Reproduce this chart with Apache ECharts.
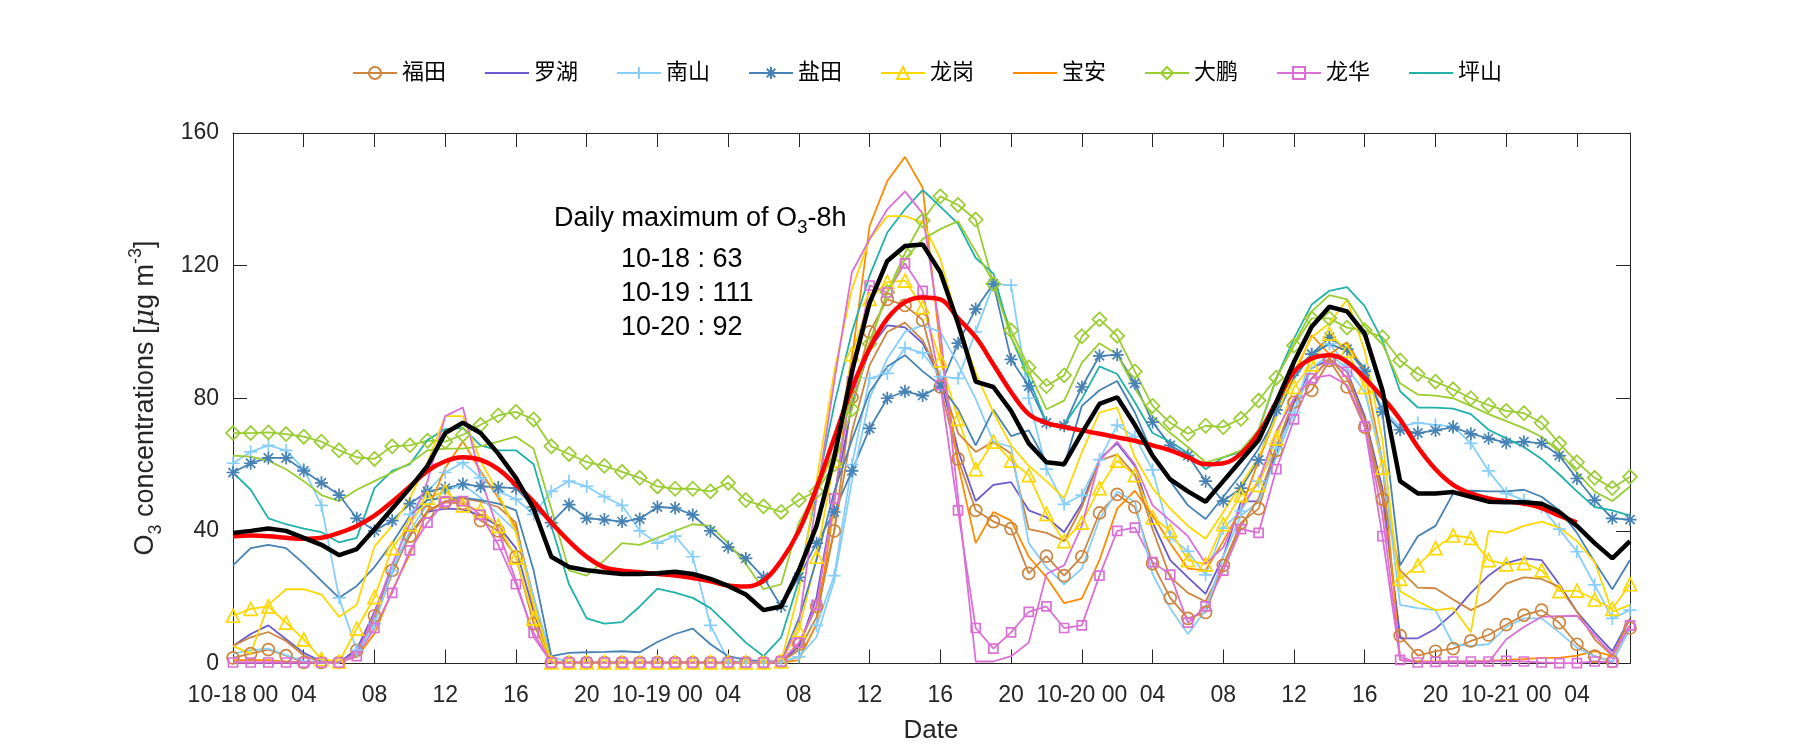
<!DOCTYPE html>
<html><head><meta charset="utf-8">
<script src="https://cdn.jsdelivr.net/npm/echarts@6/dist/echarts.min.js"></script>
<style>html,body{margin:0;padding:0;background:#fff}#c{width:1800px;height:750px}</style>
</head><body><div id="c"></div>
<script>
// ---- data (hourly, index 0 = 10-18 00:00) ----
const districts = ['福田','罗湖','南山','盐田','龙岗','宝安','大鹏','龙华','坪山'];
const xTickLabels = ['10-18 00','04','08','12','16','20','10-19 00','04','08','12','16','20','10-20 00','04','08','12','16','20','10-21 00','04'];

const futian_obs = [1.7,3,4.2,2.4,0.3,0.3,0.3,4,14.4,28.1,38.4,45.7,48.6,48.2,43.1,40,32.2,12,0.3,0.3,0.3,
 0.3,0.3,0.3,0.3,0.3,0.3,0.3,0.3,0.3,0.3,0.6,5.8,17.2,40,80.3,100,109.8,108,103.6,83.4,
 61.7,46.2,42.8,40.7,27.2,32.4,26.5,32.2,45.4,51,47.2,30.1,19.8,13.6,15.4,29.6,42.5,46.7,64.3,78.8,
 82.4,91.4,83.4,71.3,49.6,8.4,2.4,3.7,4.5,6.8,8.6,11.7,14.6,16.1,12.3,5.8,2.2,0.6,10.7];
const futian_sim = [5.3,7.9,9.5,6.8,2.4,0.3,0.3,3,13,27,39,46,49,49.8,48.8,47.2,42.5,16.7,0.3,0.3,0.3,
 0.3,0.3,0.3,0.3,0.3,0.3,0.3,0.3,0.3,0.3,0.5,4,14,40,70,90,100,102.8,97.5,86.5,
 69.5,63.8,66.9,63.3,40.5,39.4,36.9,47.2,61.2,63.1,57,40.5,26,21.3,18.7,29.6,41.5,49.8,65.3,79.8,
 86,92.2,86,73.6,50.8,28.1,22.9,22.7,19.3,16.1,18.7,24.1,26,25.5,23.1,15.6,7.3,2.4,13.6];
const luohu = [5.3,8.9,11.5,7.3,3.2,0.6,0.3,4.3,15.6,29.1,38.9,45.7,46.7,46.5,44.6,41.5,34.8,15.6,0.3,0.3,0.3,
 0.3,0.3,0.3,0.3,0.3,0.3,0.3,0.3,0.3,0.3,0.5,5,20,50,78,95,102,101.4,96.6,86,
 64.3,49,53.9,54.7,46.2,44.1,39.6,48.2,61.7,66.4,59.6,42.6,31.2,26,21,32.2,48.8,49,63.3,78.8,
 89.1,91.7,88.1,74.6,52.9,7.6,7.6,10.5,15.1,21.3,26.5,30.3,31.7,31.2,23.9,15.6,9.4,3.7,13.6];
const nanshan_obs = [60.4,63.8,65.8,64.3,58.6,47.7,19.8,4,12,28,45,52,57.6,60.6,56,51.9,49.6,45,51.9,55,53.4,
 50.3,47.7,40,36.3,38.4,32.2,11.5,1,0.3,0.3,0.3,2,11.5,26.5,60,86,87.5,95.2,93.7,86.5,
 86,100,114.4,114.1,80,58.6,48,50.8,61.5,71.9,68.4,58.4,38.2,33.8,26.7,40.8,46,55,65,75.7,
 93.3,96.4,90.2,88.6,76.7,71.5,72.6,72,71.5,66.4,58.1,51.3,49.3,47.2,40.5,33.7,23.7,13.6,16.1];
const nanshan_sim = [3,4,4.5,2.5,0.8,0.3,0.3,3,12,28,40,48,52,54,50,45,40,20,2,0.5,0.5,
 0.5,0.5,0.5,0.5,0.5,0.5,0.5,0.5,0.5,0.5,0.5,2,8,25,55,80,92,100,102,100,
 90.2,79.8,66.9,65.3,36.3,29,23.9,28.6,43.6,51.9,48.8,27,16.6,8.9,16.1,32.2,44.6,48.8,62.2,75.7,
 89.1,93.2,89.1,81.9,61.2,17.7,16.7,16.1,5.8,5.3,5.8,11,13.6,13.6,9.4,4.8,2.2,0.6,10.5];
const yantian_obs = [57.6,60.4,62,62,58.1,54.5,50.8,43.8,40,43.1,48.2,51.9,52.9,54.1,53.4,53.1,52.9,47.2,42.5,47.9,43.8,
 43.4,42.8,43.6,47.2,46.9,44.8,40,35.1,31.7,26,17.2,26,36.3,45.7,58.1,70.9,80,82.1,80.8,83.7,
 96.6,106.9,114.5,91.7,83.7,72.6,71.7,83.4,92.8,93.1,84.5,72.8,65.8,62.7,55,49,52.9,61.4,76.5,88.1,
 93.3,98.4,94.8,88.1,75.9,70.5,69.5,70.3,71.3,69.3,67.9,66.6,66.9,66.4,62.7,55.8,49.3,43.8,43.4];
const yantian_sim = [29.6,34.8,35.8,34.8,30.1,24.9,19.8,23.4,29.1,36.3,44.6,49.3,50,50,49.3,48.2,46.2,28.1,2.2,3.2,3.4,
 3.5,3.7,3.4,6.5,8.9,10.5,5.8,2.2,1.1,0.6,0.6,13.6,31.2,51.9,67.4,81.9,89.6,93,88.1,84,
 76.7,65.8,76.5,68.6,70.3,60.7,59.6,77.7,82.4,85.2,75.7,63.3,55,47.7,43.6,50.3,57,64.8,74.6,86,
 93.3,96.4,94.3,89.2,75.7,29.6,38.4,41.5,51.3,52.1,51.9,51.9,52.4,50.3,46.2,39.4,30.6,22.4,31.2];
const longgang_obs = [14.4,16.5,17.2,12.3,7.3,1.3,0.6,10.5,20,34.8,42,50,51.9,47.7,46.2,41.5,32,13.6,0.3,0.3,0.3,
 0.3,0.3,0.3,0.3,0.3,0.3,0.3,0.3,0.3,0.3,0.6,10,32.2,61.2,93.3,110,115,115.5,107.5,91.4,
 73.8,58.6,66.9,61.2,56.8,45.1,36.9,42.5,52.9,61.2,56.8,44.1,40,31.2,29.9,42,50.8,53.9,67.9,83.4,
 90.2,99.5,94.3,83.4,59.1,25.5,29.6,34.8,38.6,37.9,31.2,29.9,30.3,28.1,21.8,22,19.3,16.5,23.9];
const longgang_sim = [5.3,3,17.7,22.4,22.4,20.8,14.1,17.7,35.3,41.5,49.8,60.7,74.6,74.6,61.2,51.3,39.4,17.7,0.5,0.3,0.3,
 0.3,0.3,0.3,0.3,0.3,0.3,0.3,0.3,0.3,0.3,0.5,22,55,88,113,128,134.9,134.9,133,122,
 102.6,87.6,75.7,65.8,59.6,55,49.8,63.7,75.7,77.2,62.2,52.9,46.7,41.5,37.6,45.7,53.9,62.2,74.6,88.1,
 98.4,102.6,109.8,94.3,67.4,21.8,18.7,16.1,16.7,9.4,40,39.4,41.5,42.8,41,36.9,30.6,15.6,17.7];
const baoan = [1,1,1,0.5,0.5,0.5,0.5,2,9,22,33,46,59,67,58,50,41,20,0.5,0.3,0.3,
 0.3,0.3,0.3,0.3,0.3,0.3,0.3,0.3,0.3,0.3,0.3,1,12,48,92,132,145.5,152.8,143.5,95,
 60,36.3,45.7,43.1,32.2,26,18.2,19.6,31.2,46.7,52.1,44.6,36.3,28.6,28.1,36.9,46.7,61.2,74.6,87,
 99,93.3,96.9,88,61,1,0.6,0.6,0.6,0.6,0.8,1.1,1.3,1.7,1.7,2.4,3.7,2.2,11.5];
const dapeng_obs = [69.5,69.5,69.7,69.2,68.4,66.9,64.3,62.2,61.7,65.5,65.8,67.2,66.9,69,72,74.8,75.9,73.6,65.5,63.2,60.7,
 59.6,57.8,56,53.4,52.7,52.7,51.9,54.5,49.3,47.4,45.7,49.3,51.9,60.1,76.7,96.4,112,123.8,133.6,140.9,
 138.3,133.9,114.5,100.5,89.3,83.7,86.9,98.7,103.8,98.8,88.1,77.7,72.6,69.3,71.7,71.3,73.8,79.3,86.2,95.9,
 104.1,104.1,101.3,100.5,98.4,91.4,87.3,85,82.7,80,77.9,76.2,75.5,72.6,66.4,60.7,56,52.9,56.3];
const dapeng_sim = [62.7,62.4,61.2,58.6,55,50.8,49,52.4,55,57.6,60.4,64.3,64.8,64.8,65.5,66.9,68.4,64.8,46.7,28.1,26.5,
 31.2,36.3,35.8,37.9,40,42,41.5,36.3,30.1,22.4,23.9,42.5,51.9,64,80,97,112,122,128,131,
 133.4,124.3,115,98.4,88.1,76.7,79.3,90.7,96.6,93.3,82.9,74.6,69.5,65.3,60.7,62.2,64.3,70.5,86,96.4,
 106.2,111.1,109.8,101.6,96.4,84.5,81.1,80.8,80,77.7,75.2,73.1,71,68.4,63.8,57.6,51.9,49,53.4];
const longhua_obs = [0.3,0.3,0.3,0.3,0.3,0.3,0.3,2.2,10.7,21.3,34.1,42.5,48.8,49,44.8,35.8,23.9,9.2,0.3,0.3,0.3,
 0.3,0.3,0.3,0.3,0.3,0.3,0.3,0.3,0.3,0.3,0.6,6.3,17.7,49.8,85,114,111.9,120.7,112.4,84,
 46.2,10.7,4.5,9.4,15.6,17.2,10.7,11.5,26.5,40,41,30.6,26.8,12.3,17.2,28,40.5,39.4,58.6,73.6,
 86,91.7,88,71.5,38.4,1.1,0.3,0.5,0.6,0.6,0.6,0.8,0.6,0.3,0.1,0.1,0.6,0.3,11.5];
const longhua_sim = [0.3,0.3,0.3,0.3,0.3,0.3,0.3,3,15,30,42,55,74.6,77.2,56,40,25,8,0.3,0.3,0.3,
 0.3,0.3,0.3,0.3,0.3,0.3,0.3,0.3,0.3,0.3,0.5,12,50,85,118,128,137,142.4,135.7,100,
 50,0.6,0.6,2.2,6.3,27,29.6,41.5,61.2,66.9,60.1,47.7,43.1,38.4,30.1,35,47,55,70,80,
 86,87,84,72,45,2,0.3,0.3,0.3,0.3,0.3,7.3,11,14.1,14.3,14.4,8.4,2.7,11.5];
const pingshan = [57.6,52.4,43.8,42,40.7,39.6,36.5,37.9,52.9,58.1,60.1,67.4,70.7,71,65.8,64.3,64.3,60.1,41.5,23.9,13.6,
 12,12.5,17.2,22.6,21.4,19.8,16.7,11.6,6.3,2.2,7.9,25,52,78,100,117,130,137,142.8,137.8,
 132.6,122.3,117.6,98.4,86,72.6,72,79.8,89.6,87.3,78.8,69.5,66.9,63.5,58.6,62.2,63.8,70.5,86,98,
 108.3,112.4,113.5,107.8,97.4,82.1,77.2,77.2,76.9,75.2,70.5,67.9,65.3,61.7,57,51.9,47.2,46.2,44.6];
const mean_obs = [39.4,40,40.7,40,37.9,35.8,32.7,34.5,40.5,46.7,52.9,59.6,69.5,72.6,69.5,63.3,56,46.7,32.2,29.1,28.1,
 27.5,27,27,27.2,27.7,27,25.5,23.4,20.8,16.1,17.2,28.1,41.5,62.2,88.1,108.8,121.4,125.9,126.4,118,
 102.6,85,83.4,76.2,66.4,60.7,60.1,69.5,78.3,80.3,72,62.7,55.5,51.9,48.8,55,61.2,67.4,78.8,91,
 101.6,107.6,106.2,99.5,82.4,55,51.3,51.3,51.7,50.3,48.8,48.6,48.6,48.2,45.7,41.5,36.3,31.7,36.9];
const mean_sim = [38.4,38.6,38.4,37.9,37.6,37.9,39.4,41.5,44.6,48.8,53.4,58.1,61,62.2,61.4,58.6,53.9,48.8,42.5,36.9,32.2,
 29,28,27.5,27,26.5,25.8,24.8,23.5,23.2,25,31,40,53,68,83,95,104,109,110.4,109.8,
 104.1,98.4,90.2,81.9,75.2,72.6,71.3,70.3,69.3,68.2,67.2,65.8,64.3,62.2,60.1,60.4,63.3,69.5,78.8,88,
 92,93,91,86,80.3,73.6,65.3,58.6,53.9,51.3,49.8,49,48.2,46.9,44.6,42.5];

// ---- styling ----
const FONT = "'Liberation Sans', 'Noto Sans CJK SC', sans-serif";
const TXT = '#262626';
const C = {fu:'#CD853F', lu:'#6A5ACD', ns:'#87CEFA', yt:'#4682B4', lg:'#FFD700', ba:'#FF8C00', dp:'#9ACD32', lh:'#DA70D6', ps:'#20B2AA'};
const SYM = {
  circle:'circle',
  plus:'path://M0,-10L0,10M-10,0L10,0',
  star:'path://M0,-10L0,10M-10,0L10,0M-7.1,-7.1L7.1,7.1M-7.1,7.1L7.1,-7.1',
  tri:'triangle',
  diamond:'path://M0,-10L10,0L0,10L-10,0Z',
  square:'rect'
};
const toXY = arr => arr.map((v, i) => [i, v]);
const CLEAR = 'rgba(255,255,255,0)';

function line(name, arr, color, symbol, size, extra) {
  const s = {
    name, type:'line', data: toXY(arr),
    lineStyle:{color, width:1.8},
    itemStyle: symbol ? {color: CLEAR, borderColor: color, borderWidth:1.7}
                      : {color: CLEAR, borderColor: CLEAR, borderWidth:0, opacity:0},
    symbol: symbol || 'none', symbolSize: size || 0, showSymbol: !!symbol,
    emphasis:{disabled:true}, z:2
  };
  return Object.assign(s, extra || {});
}

const series = [
  line('福田', futian_obs, C.fu, SYM.circle, 12),
  line('罗湖', luohu, C.lu),
  line('南山', nanshan_obs, C.ns, SYM.plus, 13),
  line('盐田', yantian_obs, C.yt, SYM.star, 13),
  line('龙岗', longgang_obs, C.lg, SYM.tri, 13),
  line('宝安', baoan, C.ba),
  line('大鹏', dapeng_obs, C.dp, SYM.diamond, 14),
  line('龙华', longhua_obs, C.lh, SYM.square, 9),
  line('坪山', pingshan, C.ps),
  line('福田 sim', futian_sim, C.fu),
  line('南山 sim', nanshan_sim, C.ns),
  line('盐田 sim', yantian_sim, C.yt),
  line('龙岗 sim', longgang_sim, C.lg),
  line('大鹏 sim', dapeng_sim, C.dp),
  line('龙华 sim', longhua_sim, C.lh),
  line('mean sim', mean_sim, '#FF0000', null, 0, {smooth:0.4, lineStyle:{color:'#FF0000', width:4.5}, z:3}),
  line('mean obs', mean_obs, '#000000', null, 0, {lineStyle:{color:'#000000', width:4.5}, z:4})
];

const axisLine = {show:true, onZero:false, lineStyle:{color:TXT, width:1}};
const tick = {show:true, inside:true, length:14, lineStyle:{color:TXT, width:1}};

const option = {
  animation:false,
  backgroundColor:'#fff',
  textStyle:{fontFamily:FONT},
  grid:{left:233, right:170, top:133, bottom:86.5, containLabel:false},
  legend:{
    data: districts, left:347, top:57, orient:'horizontal',
    itemWidth:44, itemHeight:15, itemGap:38,
    textStyle:{fontSize:22, color:'#000', fontFamily:FONT},
    selectedMode:false
  },
  xAxis:[
    {type:'value', min:0, max:79, interval:4, position:'bottom', axisLine, axisTick:tick,
     splitLine:{show:false},
     axisLabel:{fontSize:23, color:TXT, margin:21, showMaxLabel:false,
       formatter: v => (v % 4 === 0 && v/4 < xTickLabels.length) ? xTickLabels[v/4] : ''}},
    {type:'value', min:0, max:79, interval:4, position:'top', axisLine, axisTick:tick,
     splitLine:{show:false}, axisLabel:{show:false}}
  ],
  yAxis:[
    {type:'value', min:0, max:160, interval:40, position:'left', axisLine, axisTick:tick,
     splitLine:{show:false}, axisLabel:{fontSize:23, color:TXT, margin:14}},
    {type:'value', min:0, max:160, interval:40, position:'right', axisLine, axisTick:tick,
     splitLine:{show:false}, axisLabel:{show:false}}
  ],
  series,
  graphic:[
    {type:'text', x:146, y:398, rotation:Math.PI/2, z:10, style:{
      text:'{n|O}{s|3}{n| concentrations [}{m|μ}{n|g m}{p|-3}{n|]}',
      align:'center', verticalAlign:'middle', fill:TXT, fontFamily:FONT,
      rich:{
        n:{fontSize:27, lineHeight:38, fill:TXT, fontFamily:FONT},
        m:{fontSize:27, lineHeight:38, fill:TXT, fontStyle:'italic', fontFamily:'DejaVu Serif'},
        s:{fontSize:18, verticalAlign:'bottom', fill:TXT, fontFamily:FONT},
        p:{fontSize:18, verticalAlign:'top', fill:TXT, fontFamily:FONT}
      }}},
    {type:'text', x:931, y:731, z:10, style:{text:'Date', fontSize:26, fill:TXT, fontFamily:FONT, align:'center', verticalAlign:'middle'}},
    {type:'text', x:554, y:219, z:10, style:{
      text:'{n|Daily maximum of O}{s|3}{n|-8h}', align:'left', verticalAlign:'middle', fill:'#000', fontFamily:FONT,
      rich:{ n:{fontSize:27, lineHeight:37, fill:'#000', fontFamily:FONT}, s:{fontSize:19, verticalAlign:'bottom', fill:'#000', fontFamily:FONT} }}},
    {type:'text', x:621, y:260, z:10, style:{text:'10-18 : 63', fontSize:27, fill:'#000', fontFamily:FONT, align:'left', verticalAlign:'middle'}},
    {type:'text', x:621, y:294, z:10, style:{text:'10-19 : 111', fontSize:27, fill:'#000', fontFamily:FONT, align:'left', verticalAlign:'middle'}},
    {type:'text', x:621, y:328, z:10, style:{text:'10-20 : 92', fontSize:27, fill:'#000', fontFamily:FONT, align:'left', verticalAlign:'middle'}}
  ]
};

const chart = echarts.init(document.getElementById('c'), null, {renderer:'canvas'});
chart.setOption(option);
</script>
</body></html>
